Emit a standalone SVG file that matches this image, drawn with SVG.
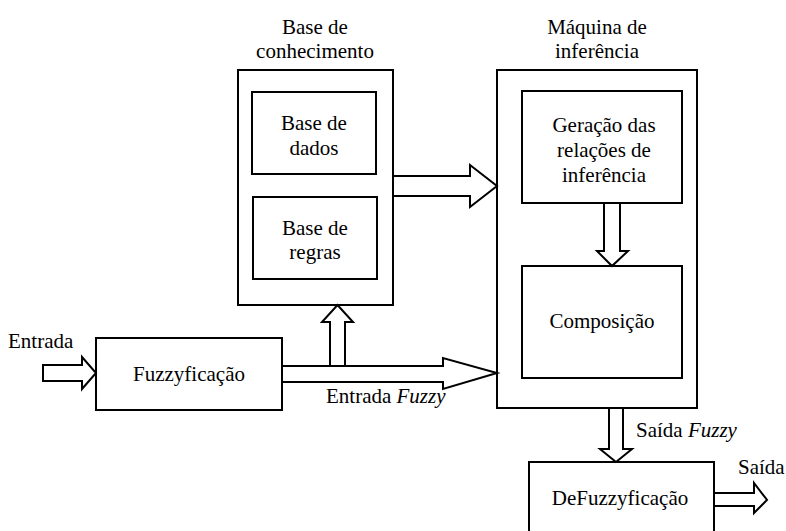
<svg xmlns="http://www.w3.org/2000/svg" width="786" height="531" viewBox="0 0 786 531">
  <style>
    .box { fill: #fff; stroke: #000; stroke-width: 2; }
    .arrow { fill: #fff; stroke: #000; stroke-width: 2; stroke-linejoin: miter; }
    .c { text-anchor: middle; }
    .i { font-style: italic; }
  </style>
  <rect width="786" height="531" fill="#fff"/>

  <g font-family="'Liberation Serif', 'Times New Roman', Times, 'DejaVu Serif', serif" font-size="21" fill="#000">
  <!-- knowledge base -->
  <g id="base-conhecimento">
    <text class="c" x="315" y="34">Base de</text>
    <text class="c" x="315" y="58">conhecimento</text>
    <rect class="box" x="238" y="70" width="155" height="235"/>
  </g>
  <g id="base-dados">
    <rect class="box" x="252" y="92" width="124" height="82"/>
    <text class="c" x="314" y="130">Base de</text>
    <text class="c" x="314" y="155">dados</text>
  </g>
  <g id="base-regras">
    <rect class="box" x="253" y="197" width="124" height="82"/>
    <text class="c" x="315" y="235">Base de</text>
    <text class="c" x="315" y="259">regras</text>
  </g>

  <!-- inference engine -->
  <g id="maquina-inferencia">
    <text class="c" x="597" y="34">Máquina de</text>
    <text class="c" x="597" y="58">inferência</text>
    <rect class="box" x="497" y="70" width="200" height="338"/>
  </g>
  <g id="geracao">
    <rect class="box" x="522" y="91" width="160" height="112"/>
    <text class="c" x="604" y="132">Geração das</text>
    <text class="c" x="604" y="157">relações de</text>
    <text class="c" x="604" y="182">inferência</text>
  </g>
  <g id="composicao">
    <rect class="box" x="522" y="266" width="160" height="112"/>
    <text class="c" x="602" y="328">Composição</text>
  </g>

  <!-- fuzzification / defuzzification -->
  <g id="fuzzyficacao">
    <rect class="box" x="96" y="338" width="186" height="72"/>
    <text class="c" x="189" y="381">Fuzzyficação</text>
  </g>
  <g id="defuzzyficacao">
    <rect class="box" x="529" y="462" width="185" height="70"/>
    <text class="c" x="620" y="505">DeFuzzyficação</text>
  </g>

  <!-- block arrows -->
  <g id="connectors">
    <polygon class="arrow" points="43,365 82,365 82,357 96,373 82,389 82,381 43,381"/>
    <polygon class="arrow" points="282,366 443,366 443,358 497,373 443,389 443,382 282,382"/>
    <polygon class="arrow" points="330,366 330,322 322,322 337.5,305 353,322 345,322 345,366"/>
    <polygon class="arrow" points="393,176 470,176 470,165 497,186 470,207 470,196 393,196"/>
    <polygon class="arrow" points="604,203 604,251 597,251 612,266 628,251 620,251 620,203"/>
    <polygon class="arrow" points="609,408 609,449 600,449 616,462 632,449 623,449 623,408"/>
    <polygon class="arrow" points="714,493 754,493 754,483 767,500 754,513 754,506 714,506"/>
    <text x="8" y="348">Entrada</text>
    <text x="326" y="403">Entrada <tspan class="i">Fuzzy</tspan></text>
    <text x="636" y="437">Saída <tspan class="i">Fuzzy</tspan></text>
    <text x="738" y="474">Saída</text>
  </g>
  </g>
</svg>
